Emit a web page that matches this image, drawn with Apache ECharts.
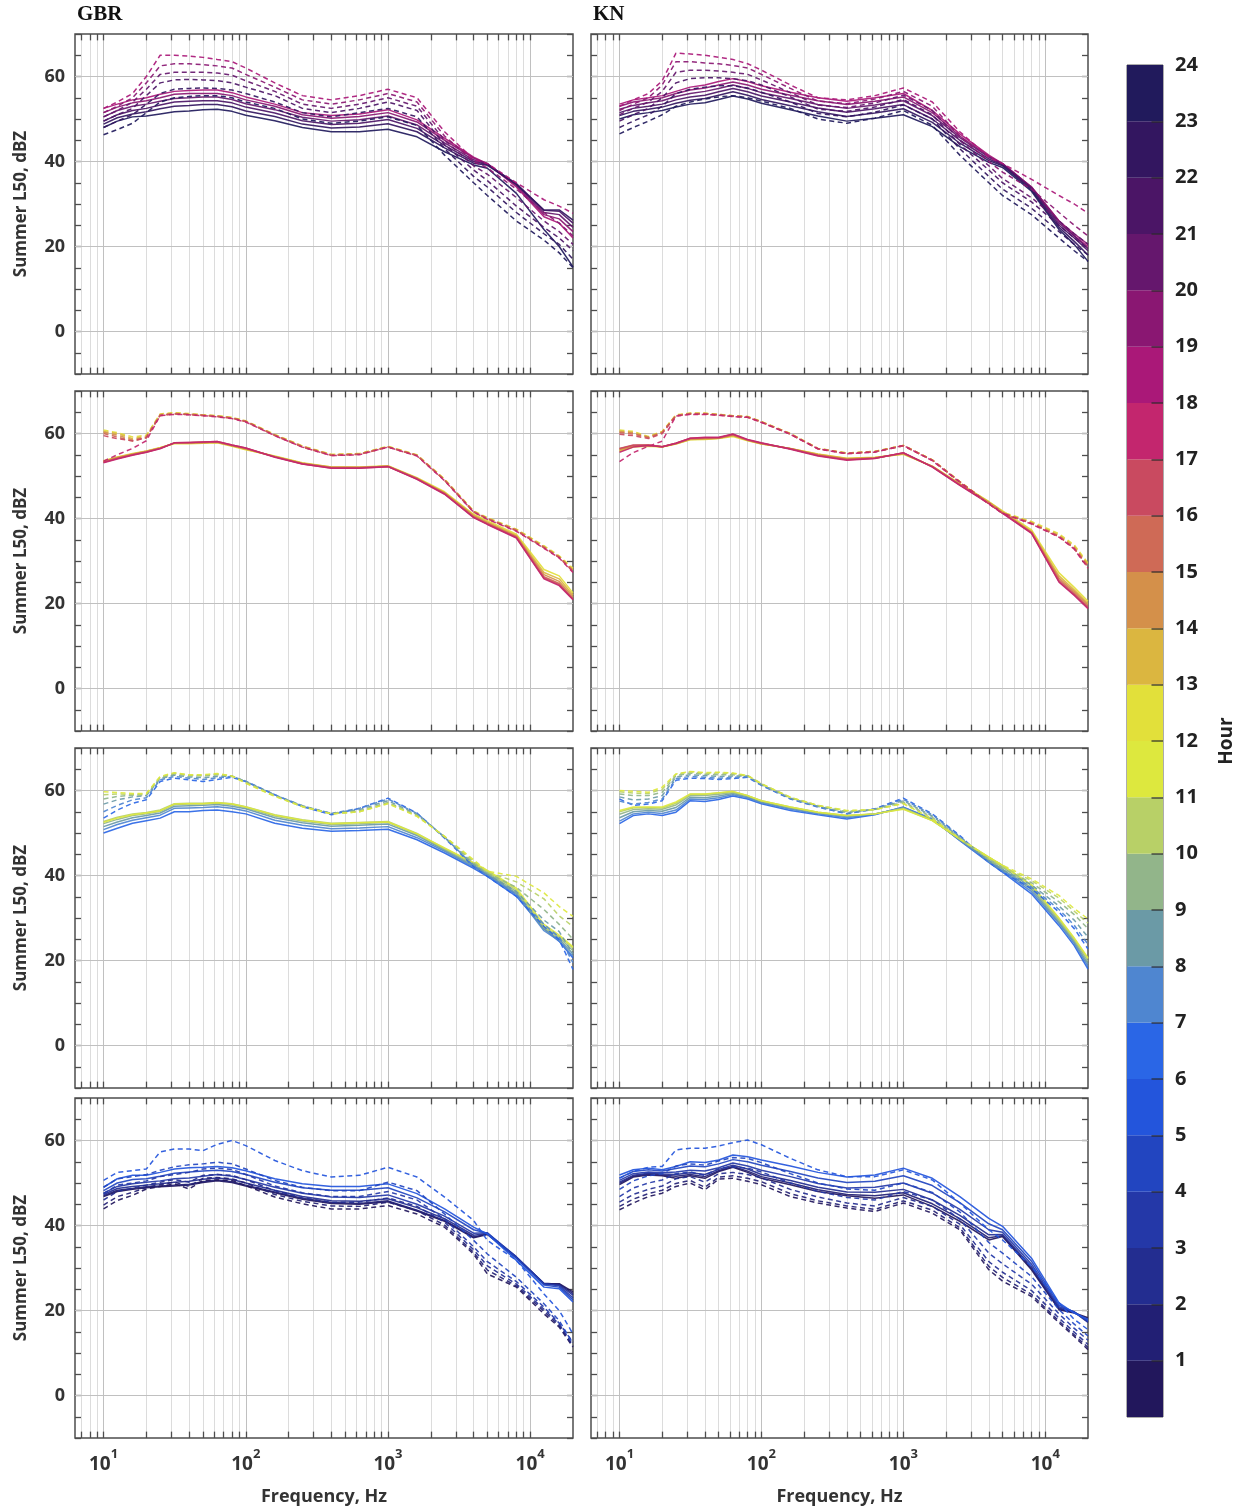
<!DOCTYPE html>
<html>
<head>
<meta charset="utf-8">
<script src="https://cdn.jsdelivr.net/npm/echarts@6/dist/echarts.min.js"></script>
<style>
html, body { margin: 0; padding: 0; background: #ffffff; }
#chart { width: 1242px; height: 1510px; }
</style>
</head>
<body>
<div id="chart"></div>
<script>
// One-third-octave band centres used for every spectrum (Hz)
const FREQ = [10, 12.5, 16, 20, 25, 31.5, 40, 50, 63, 80, 100, 160, 250, 400, 630,
              1000, 1600, 2500, 4000, 5000, 8000, 12500, 16000, 20000];

// Log-axis grid positions
const X_MAJOR = [10, 100, 1000, 10000];
const X_MINOR = [7, 8, 9, 20, 30, 40, 50, 60, 70, 80, 90, 200, 300, 400, 500, 600, 700, 800, 900,
                 2000, 3000, 4000, 5000, 6000, 7000, 8000, 9000];
const Y_GRID = [0, 20, 40, 60];

// Hour colour scale (hour 1 .. hour 24)
const HOURS = [1, 2, 3, 4, 5, 6, 7, 8, 9, 10, 11, 12, 13, 14, 15, 16, 17, 18, 19, 20, 21, 22, 23, 24];
const HOUR_COLORS = ['#22175c', '#221f74', '#232d90', '#2438a8', '#2245c0', '#2355dc',
                     '#2a66e6', '#4f86d0', '#6b9aa6', '#92b58a', '#b8d067', '#dde83e',
                     '#e2e03a', '#dbb640', '#d4904a', '#cf6a56', '#c94a60', '#c3266e',
                     '#aa1878', '#8a1772', '#65176d', '#4b1566', '#331660', '#211a5c'];
const COLORBAR_TICKS = [1, 2, 3, 4, 5, 6, 7, 8, 9, 10, 11, 12, 13, 14, 15, 16, 17, 18, 19, 20, 21, 22, 23];

const SITES = ['GBR', 'KN'];
const ROW_HOURS = [[19, 20, 21, 22, 23, 24], [13, 14, 15, 16, 17, 18], [7, 8, 9, 10, 11, 12], [1, 2, 3, 4, 5, 6]];

// ---- Summer L50 spectra, dBZ (one array per hour) ----
const GBR_EVENING_SOLID = [
  [52.5,53.5,54.5,55,55.8,56.5,56.7,56.8,56.8,56.2,55.2,53.5,51.5,50.8,51.2,52.2,49.8,45.5,41,39.5,34,27,25.5,22],
  [51.5,52.8,53.8,54.3,55,55.8,56,56,56,55.5,54.5,53,51,50.2,50.6,51.5,49.3,45,40.8,39.5,34.3,27.5,26.5,23.5],
  [50.5,52,53,53.5,54.2,54.8,55,55.2,55.2,54.6,53.6,52.2,50.4,49.5,49.8,50.7,48.6,44.4,40.4,39.4,34.6,28,27.5,24.5],
  [49.5,51,52,52.5,53.3,54,54.2,54.3,54.3,53.8,52.8,51.4,49.6,48.7,49,49.9,47.8,43.8,40,39.3,34.8,28.5,28.3,25.5],
  [48.8,50.3,51.2,51.7,52.4,53,53.2,53.4,53.4,52.9,51.9,50.6,48.8,47.9,48.1,48.9,47,43.2,39.6,39.1,34.6,28.6,28.6,26.2],
  [48,49.5,50.5,50.7,51.2,51.7,51.9,52.2,52.3,51.8,50.9,49.6,48,47,47,47.6,45.8,42.3,39.2,38.4,32.5,24,20,15.2]
];
const GBR_EVENING_DASHED = [
  [52.5,54,56,60,65,65,64.8,64.5,64,63.5,62,58.5,55.5,54.5,55.5,57,55,47,40.5,39.5,35,31,29.5,27.8],
  [51.5,53,55,58.5,62.5,63,63,62.8,62.5,62,60.5,57.5,54.5,53.5,54.5,56,54,46,40,38.5,33.5,28,25.5,22.5],
  [50.5,52,54,57,60.5,61,61,61,60.8,60.3,59,56.5,53.5,52.5,53.5,55,53,45,39,37,31.5,26,23.5,20.5],
  [49.5,51,52.5,55.5,58.5,59.2,59.3,59.2,59,58.5,57.5,55.5,52.5,51.5,52.5,54,52,44,38,35.5,29.5,24.5,22,19],
  [48,49.5,51,53.5,56,57,57.2,57.3,57.2,56.8,56,54,51.5,50.5,51.5,52.5,50.5,43,36.5,34,28,23,20.5,17],
  [46.3,47.5,49,51.5,54,55,55.3,55.5,55.5,55,54,52.5,50,49,49.5,50.5,48.5,41.5,35,32,26,21.5,18.5,15]
];
const KN_EVENING_SOLID = [
  [53.5,54.5,55,55.5,56.5,57.5,58,58.8,59.5,58.8,57.8,56.3,55,54.2,55,56,52,46.5,41.5,39.5,34,26,22.5,20],
  [53,54,54.5,55,56,56.8,57.3,58,58.7,58,57,55.6,54.3,53.4,54.2,55.2,51.5,46,41.2,39.5,34,26,23,20.5],
  [52.3,53.2,53.8,54.3,55.3,56,56.5,57.2,58,57.2,56.2,54.8,53.4,52.5,53.3,54.3,50.8,45.6,41,39.4,33.8,25.5,22.5,19.5],
  [51.5,52.5,53,53.5,54.5,55.2,55.6,56.4,57.2,56.4,55.4,54,52.6,51.6,52.4,53.4,50,45,40.6,39.2,33.6,25,22,19],
  [50.8,51.8,52.3,52.8,53.7,54.4,54.8,55.6,56.4,55.6,54.6,53.1,51.7,50.6,51.4,52.4,49.2,44.3,40.2,39,33.3,24.5,21.2,18],
  [50,51,51.5,52,52.8,53.5,53.8,54.6,55.4,54.7,53.7,52.2,50.7,49.5,50.2,51,48.2,43.5,39.8,38.6,33,24,20.5,16.5]
];
const KN_EVENING_DASHED = [
  [53,54.5,56,59,65.5,65.3,65,64.5,64,63,61.5,58,55,54.5,55.5,57.3,54,47,41,39.5,35.8,32,30,27.8],
  [52,53.5,55,58,63.5,63.5,63.2,63,62.6,62,60.5,57.2,54.2,53.6,54.7,56.5,53,46,40,37.5,33.5,28,25,22.5],
  [51,52.5,54,56.5,61,61.5,61.5,61.3,61,60.5,59.2,56.2,53.3,52.7,53.8,55.6,52,45,39,36,31.5,26,23,20.5],
  [49.5,51,52.5,55,58.5,59.5,59.7,59.7,59.5,59,58,55.2,52.3,51.8,52.8,54.6,51,44,38,35,30.5,25,22,19.5],
  [48,49.5,51,53,56,57,57.5,57.8,57.8,57.3,56.3,54,51.3,50.5,51.6,53.3,50,43,36.5,33.5,29,23.5,20.5,18],
  [46.5,48,49.5,51,53,54,54.7,55.2,55.5,55,54.2,52.5,50,49,50.2,52,48.5,41.5,35,32,27.5,22,19,16.5]
];

const GBR_AFTERNOON_SOLID = [
  [53.6,54.5,55.3,55.9,56.7,57.6,57.6,57.7,57.8,57,56.2,54.7,53.1,52.1,52.1,52.4,49.6,46.3,41,39.5,36.3,28,26.5,22.5],
  [53.5,54.4,55.2,55.8,56.6,57.7,57.7,57.8,57.9,57.1,56.3,54.6,53,52.1,52,52.3,49.5,46.1,40.8,39.2,36,27.3,25.8,22],
  [53.4,54.3,55.1,55.8,56.6,57.8,57.8,57.9,58,57.2,56.4,54.6,53,52,52,52.3,49.4,46,40.6,39,35.8,26.8,25.2,21.6],
  [53.3,54.2,55,55.7,56.5,57.8,57.8,57.9,58,57.2,56.5,54.5,52.9,52,52,52.3,49.4,45.9,40.4,38.8,35.7,26.3,24.7,21.2],
  [53.2,54.1,55,55.6,56.5,57.8,57.9,58,58.1,57.3,56.6,54.5,52.8,51.9,51.9,52.2,49.3,45.8,40.3,38.7,35.5,26,24.4,21],
  [53.1,54,54.9,55.6,56.4,57.8,57.9,58,58.1,57.3,56.6,54.4,52.8,51.8,51.8,52.2,49.2,45.7,40.2,38.6,35.4,25.8,24.2,20.9]
];
const GBR_AFTERNOON_DASHED = [
  [60.8,60.2,59.2,59.6,64.6,64.9,64.7,64.4,64.2,63.8,63,59.8,57.1,55.1,55.3,57,55,49.3,41.8,40.2,37.5,33.6,31.2,28.3],
  [60.5,60,58.8,59.4,64.5,64.8,64.6,64.4,64.1,63.7,62.9,59.7,57,55,55.2,56.9,54.9,49.2,41.7,40.1,37.4,33.4,31,28],
  [60.3,59.6,58.5,59.2,64.4,64.7,64.5,64.3,64.1,63.7,62.9,59.6,57,55,55.2,56.9,54.9,49.1,41.6,40,37.3,33.3,31,27.8],
  [60,59.2,58.2,59,64.3,64.6,64.5,64.3,64,63.6,62.8,59.6,56.9,54.9,55.1,56.8,54.8,49,41.6,40,37.2,33.2,30.9,27.6],
  [59.5,58.8,58.3,59,64.2,64.6,64.4,64.2,64,63.6,62.8,59.5,56.8,54.8,55.1,56.8,54.8,49,41.5,39.9,37.1,33.1,30.8,27.5],
  [53.5,55,56.5,58.3,64.2,64.5,64.4,64.2,63.9,63.5,62.7,59.5,56.8,54.8,55,56.8,54.7,48.9,41.5,39.8,37,33,30.7,27.3]
];
const KN_AFTERNOON_SOLID = [
  [55.8,56.8,57,56.8,57.5,58.5,58.6,58.8,59.3,58.3,57.5,56.5,55.2,54.2,54.4,55.1,52.3,48.2,44,41.8,37.3,27.2,23.8,20.5],
  [56,57,57.1,56.9,57.6,58.6,58.7,58.9,59.5,58.4,57.6,56.5,55.1,54.1,54.3,55.2,52.3,48.1,43.9,41.6,37,26.5,23.2,20],
  [56.2,57.1,57.2,56.9,57.6,58.7,58.8,58.9,59.6,58.4,57.6,56.4,55,54,54.3,55.3,52.2,48,43.8,41.5,36.8,26,22.8,19.7],
  [56.4,57.2,57.3,56.9,57.7,58.8,58.9,59,59.7,58.5,57.7,56.4,54.9,53.9,54.2,55.4,52.2,47.9,43.7,41.4,36.7,25.6,22.4,19.3],
  [56.5,57.3,57.3,56.9,57.7,58.9,59,59,59.8,58.5,57.7,56.4,54.8,53.8,54.2,55.4,52.2,47.9,43.6,41.3,36.6,25.2,22.1,19],
  [55.6,56.8,57.2,56.9,57.7,58.9,59.1,59.1,59.9,58.6,57.8,56.3,54.7,53.7,54.1,55.5,52.1,47.8,43.5,41.2,36.5,25,21.9,18.8]
];
const KN_AFTERNOON_DASHED = [
  [60.8,60.5,59.3,60.5,64.4,64.8,64.8,64.5,64.2,64,62.8,60,56.5,55.4,55.8,57.2,53.8,48.7,43.6,41.5,39.3,36.4,33.8,29.5],
  [60.6,60.3,59.2,60.4,64.3,64.7,64.7,64.5,64.2,64,62.8,60,56.5,55.4,55.8,57.2,53.8,48.7,43.6,41.4,39.1,36.1,33.5,29.2],
  [60.4,60.1,59.1,60.3,64.3,64.7,64.7,64.4,64.1,63.9,62.7,59.9,56.5,55.3,55.7,57.2,53.8,48.6,43.5,41.3,38.9,35.9,33.2,28.9],
  [60.2,59.9,59,60.2,64.2,64.6,64.6,64.4,64.1,63.9,62.7,59.9,56.4,55.3,55.7,57.1,53.7,48.6,43.5,41.3,38.9,35.8,33,28.7],
  [59.8,59.5,58.8,60,64.1,64.6,64.6,64.3,64,63.8,62.7,59.8,56.4,55.3,55.7,57.1,53.7,48.6,43.5,41.2,38.8,35.7,32.9,28.5],
  [53.4,55.5,57,58.2,64.1,64.5,64.5,64.3,64,63.8,62.6,59.8,56.4,55.2,55.6,57.2,53.6,48.5,43.4,41.2,38.7,35.6,32.8,28.3]
];

const GBR_MORNING_SOLID = [
  [50,51.1,52.3,52.9,53.5,55,55,55.3,55.4,55,54.5,52.3,51.1,50.4,50.6,50.9,48.4,45.3,41.7,39.8,35.1,27.5,24.5,20.6],
  [50.8,52,53,53.6,54.2,55.8,55.9,56,56.2,55.8,55.2,53,51.8,51,51.2,51.5,48.9,45.7,42,40.1,35.5,27,24.6,21],
  [51.5,52.6,53.6,54.1,54.7,56.3,56.4,56.5,56.7,56.3,55.7,53.6,52.4,51.6,51.8,52.1,49.4,46,42.3,40.4,35.8,27.4,25,21.6],
  [52.2,53.2,54.1,54.5,55.1,56.7,56.8,56.8,57,56.7,56,54,52.8,52,52.2,52.5,49.7,46.2,42.6,40.7,36.2,27.8,25.4,22.3],
  [52.7,53.7,54.5,54.8,55.4,56.9,57,57,57.2,56.9,56.2,54.3,53.1,52.3,52.5,52.7,49.9,46.4,42.9,41,36.6,28,25.7,22.9],
  [52.5,53.5,54.3,54.7,55.2,56.8,56.9,56.9,57.1,56.8,56.1,54.2,53,52.2,52.4,52.6,49.8,46.5,43,41.2,37,28.5,26,23.2]
];
const GBR_MORNING_DASHED = [
  [53.5,55.4,57,57.8,62.1,62.9,62.5,62.1,62.6,63.1,62.1,59,56.2,54.3,55.8,58.2,54.7,48.8,42.1,39.8,35.1,28,24.9,17.9],
  [55,56.5,57.8,58.3,62.5,63.3,62.9,62.6,63,63.3,62.2,59,56.4,54.6,55.8,58,54.6,49,42.3,40,35.5,28.5,25.5,19.5],
  [56.8,57.8,58.5,58.8,62.8,63.6,63.2,63,63.3,63.4,62.1,58.9,56.4,54.6,55.5,57.6,54.4,49,42.6,40.3,36.2,29.5,26.8,21.5],
  [58,58.6,58.9,59,63,63.9,63.5,63.4,63.7,63.4,62,58.8,56.3,54.5,55.2,57.2,54.2,49.1,43,40.6,37.2,32,28.5,25],
  [59,59.2,59.1,59.2,63.2,64.1,63.6,63.6,63.9,63.4,61.8,58.7,56.2,54.5,55,57,54,49.2,43.4,40.8,38.5,34.5,30.5,28],
  [59.7,59.5,59.3,59.3,63.3,64.2,63.7,63.7,64,63.4,61.7,58.6,56.2,54.5,55,56.9,53.9,49.2,43.7,41,39.8,35.9,32.7,30.4]
];
const KN_MORNING_SOLID = [
  [52.2,54.1,54.5,54.1,54.9,57.6,57.4,57.9,58.7,58,56.9,55.3,54.3,53.3,54.3,56.1,53.3,48.2,43.1,40.8,35.7,28.2,23.5,18],
  [52.8,54.5,54.9,54.6,55.4,58,57.9,58.3,59,58.3,57.1,55.6,54.5,53.6,54.4,56,53.2,48.3,43.3,41.1,36.2,28.7,24,18.6],
  [53.6,55,55.3,55.1,56,58.4,58.3,58.7,59.3,58.5,57.3,55.8,54.7,53.9,54.5,55.9,53.1,48.4,43.6,41.5,36.7,29,24.4,19.2],
  [54.4,55.5,55.7,55.6,56.6,58.8,58.8,59.1,59.5,58.7,57.5,56,54.8,54,54.5,55.8,53,48.5,44,42,37.1,29.4,24.8,19.8],
  [55,55.9,56,55.9,57,59.1,59.1,59.4,59.7,58.8,57.6,56.1,54.9,54.1,54.5,55.7,52.9,48.6,44.3,42.4,37.6,29.8,25.1,20.4],
  [55.3,56.1,56.1,56.1,57.3,59.2,59.2,59.5,59.8,58.8,57.6,56.1,54.9,54.1,54.5,55.6,52.9,48.6,44.3,42.4,37.8,30,25.3,20.6]
];
const KN_MORNING_DASHED = [
  [58,56.5,56.8,57.6,62.4,62.9,62.8,62.6,62.8,63.1,61.2,58,56.1,54.5,55.7,58.2,54.5,49.4,43.1,40.8,36.9,31.4,27.5,22.7],
  [57.5,56.8,57.2,58,62.8,63.3,63.1,62.9,63.1,63.3,61.3,58.1,56.2,54.6,55.6,57.9,54.3,49.2,43.2,41,37.3,32,28.3,23.8],
  [58.5,57.8,58,58.8,63.2,63.7,63.5,63.3,63.4,63.4,61.4,58.2,56.3,54.8,55.6,57.6,54,49,43.4,41.3,37.8,32.8,29.5,25.5],
  [59.2,58.8,58.8,59.6,63.5,64.1,63.8,63.7,63.7,63.5,61.5,58.3,56.4,55,55.5,57.3,53.7,48.8,43.7,41.7,38.3,33.8,30.8,27.5],
  [59.7,59.4,59.3,60.3,63.8,64.4,64,64.1,64,63.5,61.6,58.4,56.5,55.2,55.5,57,53.4,48.7,44,42.1,38.8,34.7,31.6,28.8],
  [60,59.8,59.6,60.8,63.9,64.5,64.2,64.3,64.1,63.5,61.6,58.4,56.5,55.3,55.5,56.9,53.3,48.6,44.3,42.4,39.2,35.3,32.2,29.8]
];

const GBR_NIGHT_SOLID = [
  [46.8,48,48.5,48.9,49.1,49.3,49.5,50.1,50.5,50.1,49.3,47.7,46.2,45.2,45,45.6,43.4,41,37.1,37.9,32.4,26.3,26.3,24.4],
  [47,48.3,48.7,49.1,49.3,49.5,49.7,50.3,50.7,50.3,49.5,47.9,46.4,45.4,45.2,45.8,43.6,41.2,37.3,38,32.5,26.4,26.2,24],
  [47.3,48.7,49.2,49.5,49.8,50.2,50.4,50.9,51.2,50.8,50,48.3,46.8,45.8,45.7,46.3,44.2,41.6,37.7,38.1,32.6,26.3,26,23.6],
  [47.6,49.2,49.8,50.2,50.5,51,51.2,51.6,52,51.6,50.8,49,47.6,46.7,46.6,47.2,45,42.2,38.2,38.3,32.6,26.3,25.8,23],
  [48.2,50,50.8,51,51.6,52.3,52.6,52.8,53,52.7,52,50.2,48.9,48.3,48.3,48.9,46.5,43.2,39,38.2,32.3,26,25.5,22.5],
  [49,51,51.8,51.8,52.5,53.3,53.6,53.7,53.9,53.6,52.9,51,49.8,49.2,49.2,49.8,47.5,43.9,39.6,38,31.8,25.5,25.1,22]
];
const GBR_NIGHT_DASHED = [
  [43.9,45.9,47.1,48.6,49.2,49.8,48.6,50.6,50.7,50.6,49.4,46.7,45.1,43.9,43.9,44.7,42.7,39.6,33.3,28.6,25.5,19.2,16.1,11.4],
  [44.8,46.8,47.8,49,49.6,50.2,49.2,51.1,51.3,51,50,47.3,45.7,44.6,44.5,45.5,43.5,40.1,33.7,29.5,25.8,19.8,16.4,11.6],
  [46,48,48.8,49.5,50.2,50.8,50.2,51.8,52,51.8,50.8,48.2,46.5,45.5,45.5,46.5,44.5,40.8,34.3,30.5,26.2,20.3,16.8,11.8],
  [47.5,49.5,50,50.5,51.5,52,52.5,53.3,53.5,53.2,52,49.3,47.7,46.8,46.8,48,46,41.5,35,31.5,26.8,20.8,17,12.5],
  [49,51,51.5,52,53,53.8,54.3,54.5,54.9,54.5,53.3,50.6,49,48.2,48.2,50.2,48.2,42.7,36.5,33.3,27.8,21.6,17.6,12.2],
  [50.6,52.5,52.9,53.3,57.3,58,58,57.6,59.1,60,58.8,55.3,52.9,51.4,51.8,53.7,51.4,46.7,41.2,36.5,31.8,23.9,20,14.5]
];
const KN_NIGHT_SOLID = [
  [49.6,51.4,51.9,51.7,51.1,51.7,51.1,52.7,53.7,52.5,51.1,49.6,48,47,46.4,47.2,44.5,41,36.6,37.4,29.6,20.2,19.4,18.3],
  [49.9,51.6,52.1,51.9,51.6,52,51.5,52.9,53.9,52.8,51.5,50,48.4,47.3,47,47.7,45.1,41.6,37.1,37.6,29.9,20.4,19.5,17.9],
  [50.2,51.8,52.3,52.1,52,52.4,52,53.2,54.2,53.3,52,50.6,49,47.9,47.8,48.5,46,42.4,37.8,37.9,30.3,20.6,19.6,17.2],
  [50.6,52.2,52.6,52.4,52.6,53,52.8,53.6,54.7,54,53,51.5,49.9,48.8,49,50,47.6,43.8,39,38.4,30.9,20.9,19.7,17.4],
  [51.2,52.7,53.1,52.8,53.4,54,53.8,54.5,55.5,55,54.2,52.7,51.2,50.1,50.4,51.7,49.4,45.4,40.4,39,31.6,21.3,19.6,17.6],
  [51.9,53.1,53.5,53.1,53.9,55,54.8,55.4,56.6,56.2,55.4,54,52.5,51.4,51.9,53.5,51.1,46.8,41.7,39.8,32.3,21.8,19.4,17.9]
];
const KN_NIGHT_DASHED = [
  [43.7,45.3,46.8,47.6,49.2,50,48.4,50.9,51.1,50.4,49.6,46.8,45.3,44.1,43.3,45.3,42.9,39,29.6,26.9,23.3,17.1,13.9,10.8],
  [44.5,46.2,47.5,48.3,49.9,50.6,49,51.4,51.7,51.1,50.3,47.5,45.8,44.6,43.8,45.8,43.6,39.5,30.4,27.8,23.8,17.5,14.3,11.3],
  [45.5,47.3,48.5,49.3,51,51.5,50.2,52.2,52.5,52,51.2,48.5,46.7,45.3,44.6,46.6,44.5,40.3,31.5,29,24.7,18.2,14.9,12],
  [46.8,48.8,50,50.7,52.2,52.6,51.8,53.4,53.8,53.5,52.6,50,48,46.6,46,48,46,41.5,33.5,31,26.2,19.2,15.8,13],
  [48.5,50.5,51.7,52.2,54,54.5,54.2,55.2,56,55.8,54.8,52.2,50,48.6,48.3,50,47.8,43.2,36,33.5,28,20.2,16.8,14],
  [51.1,52.7,53.7,53.9,57.8,58.2,58.2,58.7,59.5,60.1,59,55.8,53.1,51.5,51.5,53.1,50.7,45.3,39,36.6,30.4,21.8,17.9,15.5]
];

// Panel table: rows top to bottom, columns GBR then KN
const PANELS = [
  [[GBR_EVENING_SOLID, GBR_EVENING_DASHED], [KN_EVENING_SOLID, KN_EVENING_DASHED]],
  [[GBR_AFTERNOON_SOLID, GBR_AFTERNOON_DASHED], [KN_AFTERNOON_SOLID, KN_AFTERNOON_DASHED]],
  [[GBR_MORNING_SOLID, GBR_MORNING_DASHED], [KN_MORNING_SOLID, KN_MORNING_DASHED]],
  [[GBR_NIGHT_SOLID, GBR_NIGHT_DASHED], [KN_NIGHT_SOLID, KN_NIGHT_DASHED]]
];

// ---- layout ----
const COL_LEFT = [75, 591];
const COL_WIDTH = [498, 497];
const ROW_TOP = [34, 391, 748, 1098];
const ROW_HEIGHT = 340;
const X_MIN = 6.3, X_MAX = 20000, Y_MIN = -10, Y_MAX = 70;

const SANS = '"Open Sans", "Noto Sans", sans-serif';
const TXT = '#333333';

const grids = [], xAxes = [], yAxes = [], series = [];

function decadeLabel(v) {
  const lg = Math.log10(v);
  const e = Math.round(lg);
  return Math.abs(lg - e) < 1e-6 ? '{b|10}{s|' + e + '}' : '';
}

for (let r = 0; r < 4; r++) {
  for (let c = 0; c < 2; c++) {
    const gi = r * 2 + c;
    grids.push({
      left: COL_LEFT[c], top: ROW_TOP[r], width: COL_WIDTH[c], height: ROW_HEIGHT,
      show: true, borderColor: '#4d4d4d', borderWidth: 1.5, backgroundColor: 'transparent'
    });
    const bottomRow = r === 3;
    xAxes.push({
      type: 'log', logBase: 10, gridIndex: gi, min: X_MIN, max: X_MAX,
      axisLine: { show: false }, axisTick: { show: false }, splitLine: { show: false },
      minorTick: { show: false }, minorSplitLine: { show: false },
      axisLabel: {
        show: bottomRow, margin: 8, formatter: decadeLabel,
        rich: {
          b: { fontFamily: SANS, fontSize: 19, fontWeight: 'bold', color: TXT, lineHeight: 28, verticalAlign: 'bottom' },
          s: { fontFamily: SANS, fontSize: 13, fontWeight: 'bold', color: TXT, lineHeight: 28, verticalAlign: 'top', padding: [2, 0, 0, 0] }
        }
      },
      name: bottomRow ? 'Frequency, Hz' : '', nameLocation: 'middle', nameGap: 50,
      nameTextStyle: { fontFamily: SANS, fontSize: 18, fontWeight: 'bold', color: TXT }
    });
    const yCommon = {
      type: 'value', gridIndex: gi, min: Y_MIN, max: Y_MAX, interval: 5,
      axisLine: { show: false }, splitLine: { show: false },
      axisTick: { show: true, inside: true, length: 6, lineStyle: { color: '#4d4d4d', width: 1.3 } }
    };
    yAxes.push(Object.assign({}, yCommon, {
      position: 'left',
      axisLabel: {
        show: c === 0, margin: 10, formatter: v => (v % 20 === 0 ? String(v) : ''),
        fontFamily: SANS, fontSize: 18, fontWeight: 'bold', color: TXT
      },
      name: c === 0 ? 'Summer L50, dBZ' : '', nameLocation: 'middle', nameRotate: 90, nameGap: 45,
      nameTextStyle: { fontFamily: SANS, fontSize: 17, fontWeight: 'bold', color: TXT }
    }));
    yAxes.push(Object.assign({}, yCommon, { position: 'right', axisLabel: { show: false } }));

    const base = { type: 'line', xAxisIndex: gi, yAxisIndex: gi * 2, data: [], silent: true, z: 1 };
    // minor vertical grid
    series.push(Object.assign({}, base, {
      markLine: {
        silent: true, symbol: 'none', animation: false, z: 1, label: { show: false },
        emphasis: { disabled: true }, lineStyle: { color: '#dcdcdc', width: 1, type: 'solid' },
        data: X_MINOR.map(v => ({ xAxis: v }))
      }
    }));
    // decade lines and horizontal grid
    series.push(Object.assign({}, base, {
      markLine: {
        silent: true, symbol: 'none', animation: false, z: 1, label: { show: false },
        emphasis: { disabled: true }, lineStyle: { color: '#c0c0c0', width: 1, type: 'solid' },
        data: X_MAJOR.map(v => ({ xAxis: v })).concat(Y_GRID.map(v => ({ yAxis: v })))
      }
    }));
    // tick marks along top and bottom edges
    const tickData = [];
    X_MAJOR.concat(X_MINOR).forEach(v => {
      tickData.push([{ coord: [v, Y_MIN] }, { coord: [v, Y_MIN + 1.5] }]);
      tickData.push([{ coord: [v, Y_MAX] }, { coord: [v, Y_MAX - 1.5] }]);
    });
    series.push(Object.assign({}, base, {
      markLine: {
        silent: true, symbol: 'none', animation: false, z: 6, label: { show: false },
        emphasis: { disabled: true }, lineStyle: { color: '#4d4d4d', width: 1.3, type: 'solid' },
        data: tickData
      }
    }));

    // spectra: solid lines, then dashed lines, hours in ascending order
    const [solid, dashed] = PANELS[r][c];
    const hrs = ROW_HOURS[r];
    [[solid, 'solid'], [dashed, [5, 3.5]]].forEach(([set, dash]) => {
      set.forEach((vals, k) => {
        series.push({
          type: 'line', xAxisIndex: gi, yAxisIndex: gi * 2,
          name: SITES[c] + ' ' + hrs[k],
          data: FREQ.map((f, i) => [f, vals[i]]),
          showSymbol: false, symbol: 'none', silent: true, z: 3,
          lineStyle: { color: HOUR_COLORS[hrs[k] - 1], width: 1.5, type: dash, opacity: 0.92 },
          emphasis: { disabled: true }
        });
      });
    });
  }
}

// ---- hour colour bar ----
grids.push({ left: 1127, top: 65, width: 36, height: 1352, show: true, borderColor: '#5a5a5a', borderWidth: 1 });
xAxes.push({ type: 'value', gridIndex: 8, min: 0, max: 1, show: false });
yAxes.push({
  type: 'value', gridIndex: 8, min: 0, max: 24, interval: 1, position: 'right',
  axisLine: { show: false }, splitLine: { show: false }, axisTick: { show: false },
  axisLabel: {
    margin: 12, formatter: v => (v === 0 ? '' : String(v)),
    fontFamily: SANS, fontSize: 20, fontWeight: 'bold', color: '#222222'
  },
  name: 'Hour', nameLocation: 'middle', nameRotate: 90, nameGap: 54,
  nameTextStyle: { fontFamily: SANS, fontSize: 19, fontWeight: 'bold', color: '#222222' }
});
series.push({
  type: 'custom', xAxisIndex: 8, yAxisIndex: 16, silent: true, z: 2,
  data: HOURS.map(h => [h]),
  renderItem: (params, api) => {
    const h = api.value(0);
    const p0 = api.coord([0, h - 1]);
    const p1 = api.coord([1, h]);
    return {
      type: 'rect',
      shape: { x: p0[0], y: p1[1], width: p1[0] - p0[0], height: p0[1] - p1[1] },
      style: { fill: HOUR_COLORS[h - 1] }
    };
  },
  markLine: {
    silent: true, symbol: 'none', animation: false, z: 8, label: { show: false },
    emphasis: { disabled: true }, lineStyle: { color: '#2a2a2a', width: 1.5, type: 'solid', opacity: 0.8 },
    data: COLORBAR_TICKS.map(k => [{ coord: [0.68, k] }, { coord: [1, k] }])
  }
});

const chart = echarts.init(document.getElementById('chart'), null, { renderer: 'canvas' });
chart.setOption({
  animation: false,
  backgroundColor: '#ffffff',
  grid: grids,
  xAxis: xAxes,
  yAxis: yAxes,
  series: series,
  graphic: [
    { type: 'text', left: 77, top: 4, style: { text: 'GBR', font: 'bold 21px "Liberation Serif", serif', fill: '#111111' } },
    { type: 'text', left: 593, top: 4, style: { text: 'KN', font: 'bold 21px "Liberation Serif", serif', fill: '#111111' } }
  ]
});
</script>
</body>
</html>
